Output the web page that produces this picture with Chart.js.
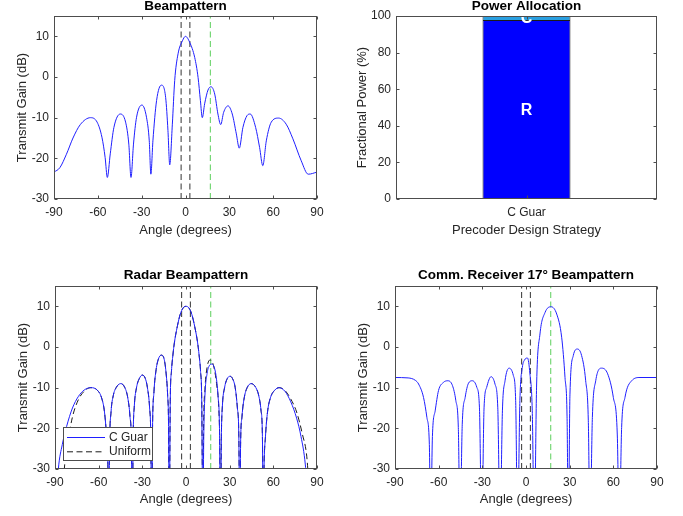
<!DOCTYPE html>
<html>
<head>
<meta charset="utf-8">
<script src="https://cdn.jsdelivr.net/npm/chart.js@4.4.1/dist/chart.umd.min.js"></script>
<style>
  html, body { margin: 0; padding: 0; background: #fff; }
  #wrap { position: relative; width: 683px; height: 516px; overflow: hidden; }
  canvas { position: absolute; }
</style>
</head>
<body>
<div id="wrap">
  <canvas id="beam" width="340" height="258" style="left:0;top:0"></canvas>
  <canvas id="power" width="343" height="258" style="left:340px;top:0"></canvas>
  <canvas id="radar" width="340" height="258" style="left:0;top:258px"></canvas>
  <canvas id="comm" width="343" height="258" style="left:340px;top:258px"></canvas>
</div>
<script>
// tick labels
const angleTicks = [-90, -60, -30, 0, 30, 60, 90];
const gainTicks = [-30, -20, -10, 0, 10];
const powerTicks = [0, 20, 40, 60, 80, 100];

// radar target bounds and comm receiver direction (degrees)
const targetBounds = [-3, 3];
const commAngle = 17;

// top left: combined beampattern
const bpAngles = [-90, -86, -81.5, -77, -72, -65, -60.5, -57.2, -55, -53.5, -51.5, -49, -44.6, -41, -38.8, -37.3,
  -35.6, -33.5, -29.8, -26.7, -24.8, -23.7, -22.3, -19.8, -16.5, -13.6, -12, -10.8, -9, -7.4, -5.1, -2.1, 0,
  2.9, 6.3, 8.6, 10.2, 11.5, 13.1, 15.4, 17.5, 20, 22.2, 24.1, 26.1, 29.1, 32, 34.8, 36.8, 39.3, 42.1, 44.3,
  48, 50.7, 52.9, 55.3, 58.7, 63.7, 68.9, 73.5, 79.2, 84, 90];
const bpGain = [-23.4, -22.3, -19, -15, -11.7, -10, -11.1, -14.8, -19.8, -24.7, -18.9, -12.4, -9.1, -11.1, -16.5, -24.7,
  -16.5, -9.9, -6.9, -9.9, -15.7, -23.9, -15.7, -5.8, -2, -5, -13.2, -21.6, -11.6, -0.9, 5.7, 8.9, 10,
  8.5, 4.8, -0.1, -5.8, -10, -6.6, -3.2, -2.4, -4.2, -9.1, -11.7, -8.7, -7.1, -9.1, -14, -17.5, -12.4, -9.5, -9.1,
  -12.4, -17.3, -21.8, -15.7, -11.1, -10.1, -11.6, -15.2, -20.6, -23.9, -23.4];

// top right: power allocation
const strategies = ['C Guar'];
const radarShare = [97.8];
const commShare = [2.2];

// bottom left: radar beampattern, C Guar
const cgAngles = [-88.6, -87.7, -85, -82, -78, -74, -70, -65.4, -61, -58, -56, -54.6, -53.6, -53.1, -52.5, -51.5,
  -50, -48, -44.8, -42, -40, -38.5, -37.5, -36.9, -36.3, -35.5, -34, -32, -30, -28, -26.5, -25, -24.2, -23.6,
  -23, -22, -20.5, -19, -17, -15, -13.8, -12.6, -12, -11.5, -10.8, -10, -9, -8, -6, -4, -2, 0, 2, 4, 6, 8, 9,
  10, 10.8, 11.6, 12.2, 13, 14.5, 16, 17.7, 19.2, 20.6, 22, 23, 23.7, 24.3, 25, 26.5, 28.3, 30.2, 32, 33.8,
  35.3, 36.3, 36.9, 37.5, 38.5, 40, 42, 44.8, 48, 50, 51.5, 52.5, 53.1, 53.6, 54.6, 56, 58, 61, 64, 68, 72,
  76, 79, 82, 83.2];
const cgGain = [-35, -30, -24, -19.5, -15, -12.2, -10.6, -10, -10.6, -12.5, -16, -22, -30, -45, -24, -16,
  -12, -10, -9, -10, -12.5, -17, -24, -45, -22, -14.5, -10, -7.7, -6.9, -7.7, -10, -15, -22, -45,
  -20, -11, -5.5, -3, -2, -3, -6, -12, -19, -45, -13, -6, -2, 1, 5, 8, 9.6, 10, 9.6, 8, 5, 1, -2,
  -6, -13, -45, -22, -12, -6.5, -4.6, -4.2, -4.8, -7, -12, -20, -45, -22, -14.5, -10, -7.8, -7.2, -7.8, -10,
  -15, -22, -45, -24, -17, -12.5, -10, -9, -10, -12, -15.5, -22, -45, -30, -22, -16, -12.5, -10.6, -10, -10.9, -13.5,
  -17.5, -22, -29, -35];

// bottom left: radar beampattern, uniform
const unAngles = [-84.4, -83.6, -81, -78, -74, -70, -65.4, -61, -58, -56, -54.6, -53.6, -53.1, -52.5, -51.5,
  -50, -48, -44.8, -42, -40, -38.5, -37.5, -36.9, -36.3, -35.5, -34, -32, -30, -28, -26.5, -25, -24.2, -23.6,
  -23, -22, -20.5, -19, -17, -15, -13.8, -12.6, -12, -11.5, -10.8, -10, -9, -8, -6, -4, -2, 0, 2, 4, 6, 8, 9,
  10, 10.8, 11.6, 12.1, 13, 14.5, 16.5, 18, 19.5, 21, 22.5, 23.2, 23.7, 24.3, 25, 26.5, 28.3, 30.2, 32, 33.8,
  35.3, 36.3, 36.9, 37.5, 38.5, 40, 42, 44.8, 48, 50, 51.5, 52.5, 53.1, 53.6, 54.6, 56, 58, 61, 64, 68, 72,
  76, 80, 83, 84.6];
const unGain = [-35, -30, -23, -17.2, -13, -10.9, -10, -10.6, -12.5, -16, -22, -30, -45, -24, -16,
  -12, -10, -9, -10, -12.5, -17, -24, -45, -22, -14.5, -10, -7.7, -6.9, -7.7, -10, -15, -22, -45,
  -20, -11, -5.5, -3, -2, -3, -6, -12, -19, -45, -13, -6, -2, 1, 5, 8, 9.6, 10, 9.6, 8, 5, 1, -2,
  -6, -13, -45, -20, -10.5, -5, -3.2, -3.6, -5.5, -9, -15, -24, -45, -22, -14.5, -10, -7.8, -7.2, -7.8, -10,
  -15, -22, -45, -24, -17, -12.5, -10, -9, -10, -12, -15.5, -22, -45, -30, -22, -16, -12.5, -10.6, -10, -10.7, -12.8,
  -16, -21.5, -27, -35];

// bottom right: comm receiver beampattern
const cmAngles = [-90, -81, -76, -73.8, -70.4, -68.1, -66.4, -65.5, -64.3, -62.4, -60.1, -56.7, -53.7, -50.5,
  -48.2, -46.5, -45.3, -43.8, -41.8, -39.5, -36.8, -33.8, -32, -30.4, -28.8, -27, -24, -21.3, -19.4, -17.8,
  -16.2, -14.4, -11.6, -8.7, -7.1, -5.8, -4.2, -2.5, -1, 1, 2.7, 4.3, 5.7, 7.3, 9.6, 13.1, 17.2, 21.1, 24.5,
  26.8, 28.2, 29.1, 30.2, 32.5, 35.3, 38.2, 41, 42.8, 44, 45.6, 47.9, 52, 56.1, 60, 62.7, 64.1, 65.7, 68,
  72.6, 78.3, 90];
const cmGain = [-7.5, -7.6, -8.2, -9.1, -12.4, -17.3, -24, -45, -22, -15.7, -10.7, -8.7, -8.3, -9.5,
  -13.2, -19.8, -45, -19, -12.4, -8.9, -8.3, -9.9, -14.8, -45, -14.8, -9.9, -7.3, -9.1, -14.8, -45,
  -15.7, -8.3, -5.2, -7, -13.2, -45, -13.2, -5, -3.2, -2.7, -6.6, -15.7, -45, -9.1, 3.2, 8.5, 9.9, 8.1, 2.4,
  -7.5, -17, -45, -11.6, -2.1, -0.5, -2.1, -8.3, -18, -45, -17.3, -8.3, -5.2, -6.6, -12.4, -21.4, -45, -19.8, -12.4,
  -8.3, -7.5, -7.5];

const FONT = '"Liberation Sans", Arial, Helvetica, sans-serif';
const INK = '#262626';
Chart.defaults.font.family = FONT;
Chart.defaults.color = INK;

// MATLAB-like box, inward ticks, titles, labels, legend and bar labels
const matlabAxes = {
  id: 'matlabAxes',
  afterDatasetsDraw(chart, args, o) {
    const ctx = chart.ctx;
    const a = chart.chartArea;
    const l = Math.round(a.left) + 0.5, t = Math.round(a.top) + 0.5;
    const r = Math.round(a.right) - 0.5, b = Math.round(a.bottom) - 0.5;
    ctx.save();

    if (o.barLabels) {
      ctx.save();
      ctx.beginPath();
      ctx.rect(a.left, a.top, a.right - a.left, a.bottom - a.top);
      ctx.clip();
      ctx.fillStyle = '#fff';
      ctx.font = 'bold 16px ' + FONT;
      ctx.textAlign = 'center';
      ctx.textBaseline = 'middle';
      chart.data.datasets.forEach((ds, i) => {
        const el = chart.getDatasetMeta(i).data[0];
        ctx.fillText(ds.label, el.x, (el.y + el.base) / 2 + 1);
      });
      ctx.restore();
    }

    ctx.strokeStyle = '#4d4d4d';
    ctx.lineWidth = 1;
    ctx.strokeRect(l, t, r - l, b - t);
    const xs = chart.scales.x, ys = chart.scales.y;
    ctx.beginPath();
    xs.ticks.forEach(tk => {
      const px = Math.round(xs.getPixelForValue(tk.value)) + 0.5;
      ctx.moveTo(px, b); ctx.lineTo(px, b - 3);
      ctx.moveTo(px, t); ctx.lineTo(px, t + 3);
    });
    ys.ticks.forEach(tk => {
      const py = Math.round(ys.getPixelForValue(tk.value)) + 0.5;
      ctx.moveTo(l, py); ctx.lineTo(l + 3, py);
      ctx.moveTo(r, py); ctx.lineTo(r - 3, py);
    });
    ctx.stroke();

    if (o.legend) {
      const g = o.legend;
      const gx = a.left + g.x, gy = a.top + g.y;
      ctx.fillStyle = '#fff';
      ctx.fillRect(gx, gy, g.w, g.h);
      ctx.strokeStyle = '#4d4d4d';
      ctx.strokeRect(gx + 0.5, gy + 0.5, g.w, g.h);
      ctx.font = '12px ' + FONT;
      ctx.textBaseline = 'middle';
      ctx.textAlign = 'left';
      g.items.forEach((it, i) => {
        const yy = gy + 10.5 + i * 14.3;
        ctx.strokeStyle = it.color;
        ctx.setLineDash(it.dash);
        ctx.beginPath();
        ctx.moveTo(gx + 4, yy); ctx.lineTo(gx + 42, yy);
        ctx.stroke();
        ctx.setLineDash([]);
        ctx.fillStyle = INK;
        ctx.fillText(it.text, gx + 46, yy);
      });
    }

    const cx = (a.left + a.right) / 2, cy = (a.top + a.bottom) / 2;
    ctx.fillStyle = '#000';
    ctx.textAlign = 'center';
    ctx.textBaseline = 'alphabetic';
    ctx.font = 'bold 13.5px ' + FONT;
    ctx.fillText(o.title, cx, a.top - o.titleOff);
    ctx.fillStyle = INK;
    ctx.font = '13px ' + FONT;
    ctx.fillText(o.xLabel, cx, a.bottom + o.xLabelOff);
    ctx.save();
    ctx.translate(a.left - o.yLabelOff, cy);
    ctx.rotate(-Math.PI / 2);
    ctx.fillText(o.yLabel, 0, 0);
    ctx.restore();
    ctx.restore();
  }
};
Chart.register(matlabAxes);

const pts = (xs, ys) => xs.map((x, i) => ({ x: x, y: ys[i] }));

function curve(xs, ys, color, dash) {
  return { data: pts(xs, ys), borderColor: color, borderWidth: 1, borderDash: dash,
    pointRadius: 0, cubicInterpolationMode: 'monotone', fill: false };
}

function vline(angle, color) {
  const lo = gainTicks[0], hi = 15;
  return { data: [{ x: angle, y: lo }, { x: angle, y: hi }], borderColor: color, borderWidth: 1,
    borderDash: [6, 3.5], pointRadius: 0, fill: false };
}

function fixedTicks(list) {
  return s => { s.ticks = list.map(v => ({ value: v })); };
}

const noGrid = { display: false, drawTicks: false, tickLength: 0 };
const tickFont = { size: 12 };

function lineOptions(c) {
  return {
    responsive: false, animation: false, events: [],
    layout: { padding: { left: 0, top: c.top, right: c.right, bottom: 0 } },
    plugins: { legend: { display: false }, tooltip: { enabled: false }, matlabAxes: c.axes },
    scales: {
      x: { type: 'linear', min: -90, max: 90, afterBuildTicks: fixedTicks(angleTicks),
        afterFit: s => { s.height = c.xHeight; },
        grid: noGrid, border: { display: false },
        ticks: { padding: 6, font: tickFont, maxRotation: 0, autoSkip: false, color: INK } },
      y: { type: 'linear', min: -30, max: 15, afterBuildTicks: fixedTicks(gainTicks),
        afterFit: s => { s.width = c.yWidth; },
        grid: noGrid, border: { display: false },
        ticks: { padding: 5, font: tickFont, color: INK } }
    }
  };
}

const black = '#333333', green = '#5ccf5c', blue = '#1f1fff';

new Chart(document.getElementById('beam'), {
  type: 'line',
  data: { datasets: [
    curve(bpAngles, bpGain, blue, []),
    vline(targetBounds[0], black), vline(targetBounds[1], black), vline(commAngle, green)
  ] },
  options: lineOptions({ top: 16, right: 23, yWidth: 54, xHeight: 59,
    axes: { title: 'Beampattern', titleOff: 6, xLabel: 'Angle (degrees)', xLabelOff: 35,
      yLabel: 'Transmit Gain (dB)', yLabelOff: 28.5 } })
});

new Chart(document.getElementById('radar'), {
  type: 'line',
  data: { datasets: [
    curve(cgAngles, cgGain, blue, []),
    curve(unAngles, unGain, '#1a1a1a', [6, 3.5]),
    vline(targetBounds[0], black), vline(targetBounds[1], black), vline(commAngle, green)
  ] },
  options: lineOptions({ top: 28, right: 23, yWidth: 55, xHeight: 47,
    axes: { title: 'Radar Beampattern', titleOff: 7.5, xLabel: 'Angle (degrees)', xLabelOff: 33.5,
      yLabel: 'Transmit Gain (dB)', yLabelOff: 28.5,
      legend: { x: 8, y: 141, w: 89, h: 33, items: [
        { text: 'C Guar', color: blue, dash: [] },
        { text: 'Uniform', color: '#1a1a1a', dash: [6, 3.5] }
      ] } } })
});

new Chart(document.getElementById('comm'), {
  type: 'line',
  data: { datasets: [
    curve(cmAngles, cmGain, blue, []),
    vline(targetBounds[0], black), vline(targetBounds[1], black), vline(commAngle, green)
  ] },
  options: lineOptions({ top: 28, right: 26, yWidth: 55, xHeight: 47,
    axes: { title: 'Comm. Receiver 17\u00B0 Beampattern', titleOff: 7.5, xLabel: 'Angle (degrees)',
      xLabelOff: 33.5, yLabel: 'Transmit Gain (dB)', yLabelOff: 28.5 } })
});

new Chart(document.getElementById('power'), {
  type: 'bar',
  data: {
    labels: strategies,
    datasets: [
      { label: 'R', data: radarShare, backgroundColor: '#0000ff', borderColor: '#1a1a1a',
        borderWidth: 1, borderSkipped: false, barPercentage: 0.337, categoryPercentage: 1 },
      { label: 'C', data: commShare, backgroundColor: '#2a9fe0', borderColor: '#1a1a1a',
        borderWidth: { top: 0, left: 1, right: 1, bottom: 0 }, borderSkipped: false,
        barPercentage: 0.337, categoryPercentage: 1 }
    ]
  },
  options: {
    responsive: false, animation: false, events: [],
    layout: { padding: { left: 0, top: 16, right: 26, bottom: 0 } },
    plugins: { legend: { display: false }, tooltip: { enabled: false },
      matlabAxes: { title: 'Power Allocation', titleOff: 6, xLabel: 'Precoder Design Strategy',
        xLabelOff: 35, yLabel: 'Fractional Power (%)', yLabelOff: 30, barLabels: true } },
    scales: {
      x: { stacked: true, afterFit: s => { s.height = 59; },
        grid: noGrid, border: { display: false },
        ticks: { padding: 6, font: tickFont, color: INK } },
      y: { stacked: true, min: 0, max: 100, afterBuildTicks: fixedTicks(powerTicks),
        afterFit: s => { s.width = 56; },
        grid: noGrid, border: { display: false },
        ticks: { padding: 5, font: tickFont, color: INK } }
    }
  }
});
</script>
</body>
</html>
